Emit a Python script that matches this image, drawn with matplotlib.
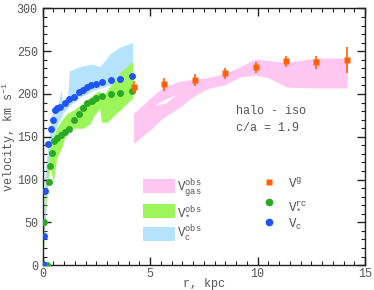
import matplotlib
matplotlib.use("Agg")
import matplotlib.pyplot as plt
from matplotlib.patches import Patch
from matplotlib.lines import Line2D
from matplotlib.ticker import MultipleLocator

plt.rcParams['font.family'] = ['Liberation Mono', 'DejaVu Sans Mono']
plt.rcParams['mathtext.fontset'] = 'custom'
plt.rcParams['mathtext.rm'] = 'Liberation Mono'
plt.rcParams['mathtext.it'] = 'Liberation Mono'
plt.rcParams['mathtext.bf'] = 'Liberation Mono'

# --- Vc observed band (light blue)
c_r  = [0.0, 0.1, 0.25, 0.42, 0.55, 0.7, 0.85, 0.95, 1.15, 1.24, 1.74, 2.28, 2.67, 3.14, 3.6, 4.18]
c_hi = [0, 105, 140, 175, 180, 185, 205, 185, 190, 227, 232, 235, 232, 247, 255, 260]
c_lo = [0, 50, 100, 140, 155, 165, 172, 178, 183, 186, 196, 203, 207, 210, 212, 215]

# --- V* observed band (green)
g_r  = [0.0, 0.1, 0.2, 0.35, 0.5, 0.65, 0.9, 1.12, 1.43, 1.9, 2.2, 2.4, 2.65, 2.75, 3.0, 3.45, 3.6, 4.18]
g_hi = [0, 60, 110, 140, 150, 160, 170, 177, 181, 190, 196, 200, 204, 192, 205, 218, 225, 238]
g_lo = [0, 40, 95, 115, 97, 125, 138, 158, 160, 160, 165, 175, 183, 167, 167, 178, 181, 195]

# --- Vgas observed band (pink)
gas_r  = [4.22, 5.0, 5.6, 6.4, 7.0, 7.65, 7.8, 8.5, 9.2, 9.9, 10.5, 11.37, 12.77, 14.17]
gas_hi = [177, 195, 208, 215, 217, 219, 220, 224, 232, 241, 239, 237, 242, 242]
gas_lo = [142, 158, 172, 185, 197, 206, 207, 211, 220, 222, 219, 208, 207, 207]
# gap inside the gas band
gap_r  = [5.2, 5.7, 6.2]
gap_hi = [187, 194, 199]
gap_lo = [187, 189, 199]

# --- rotation curve points
vc_r = [0.0, 0.05, 0.12, 0.25, 0.37, 0.46, 0.57, 0.68, 0.82, 1.04, 1.24, 1.46, 1.68, 1.86,
        2.07, 2.27, 2.47, 2.78, 3.2, 3.6, 4.18]
vc_v = [1, 34, 87, 141, 159, 170, 181, 184, 185, 190, 194, 197, 202, 205,
        208, 210, 212, 214, 216, 218, 221]

vs_r = [0.18, 0.06, 0.28, 0.36, 0.45, 0.54, 0.68, 0.84, 1.05, 1.24, 1.46, 1.68, 1.88,
        2.08, 2.28, 2.48, 2.78, 3.2, 3.6, 4.18]
vs_v = [0, 50, 97, 116, 131, 145, 148, 152, 156, 159, 169, 177, 184,
        189, 192, 195, 198, 200, 201, 204]

vg_r = [4.24, 5.67, 7.08, 8.48, 9.91, 11.33, 12.74, 14.15]
vg_v = [208, 211.5, 216, 224, 231, 238, 237, 239.5]
vg_e = [7.5, 7.5, 7, 6.6, 6.2, 6.6, 7.8, 15.4]

pink = '#ffc6f2'
green_band = '#9cf55a'
blue_band = '#b6e3fc'
blue = '#1f55f5'
green = '#2aaa22'
orange = '#ff6008'
gray = '#555555'

fig = plt.figure(figsize=(3.74, 2.9), dpi=100)
ax = fig.add_axes([0.114, 0.086, 0.862, 0.885])

ax.fill_between(gas_r, gas_lo, gas_hi, color=pink, lw=0, zorder=1)
ax.fill_between(gap_r, gap_lo, gap_hi, color='white', lw=0, zorder=1.1)
ax.fill_between(c_r, c_lo, c_hi, color=blue_band, lw=0, zorder=1)
ax.fill_between(g_r, g_lo, g_hi, color=green_band, lw=0, zorder=2)

ax.plot(vs_r, vs_v, 'o', color=green, ms=5, mec='none', zorder=3)
ax.plot(vc_r, vc_v, 'o', color=blue, ms=5, mec='none', zorder=4)
ax.errorbar(vg_r, vg_v, yerr=vg_e, fmt='s', color=orange, ms=4.5, mec='none',
            elinewidth=1.2, capsize=0, zorder=5)

ax.set_xlim(0, 15)
ax.set_ylim(0, 300)
ax.xaxis.set_major_locator(MultipleLocator(5))
ax.xaxis.set_minor_locator(MultipleLocator(0.5))
ax.yaxis.set_major_locator(MultipleLocator(50))
ax.yaxis.set_minor_locator(MultipleLocator(10))
ax.tick_params(which='both', direction='in', top=True, right=True, colors='#222222',
               labelcolor=gray, labelsize=8.5)
ax.tick_params(which='major', length=6, width=1)
ax.tick_params(which='minor', length=3, width=0.8)
ax.tick_params(axis='x', pad=2)
for s in ax.spines.values():
    s.set_linewidth(1)
    s.set_color('#222222')

ax.set_xlabel('r, kpc', fontsize=8.5, color=gray, labelpad=-1.5)
ax.set_ylabel(r'velocity, km s$^{-1}$', fontsize=8.5, color=gray, labelpad=-1)

ax.text(9.0, 180, 'halo - iso', fontsize=8.5, color=gray, va='center')
ax.text(9.0, 160, 'c/a = 1.9', fontsize=8.5, color=gray, va='center')

h1 = [Patch(color=pink, lw=0), Patch(color=green_band, lw=0), Patch(color=blue_band, lw=0)]
l1 = [r'V$^{\mathrm{obs}}_{\mathrm{gas}}$', r'V$^{\mathrm{obs}}_{*}$', r'V$^{\mathrm{obs}}_{\mathrm{c}}$']
leg1 = ax.legend(h1, l1, loc='upper left', bbox_to_anchor=(0.311, 0.345), frameon=False,
                 fontsize=9, handlelength=2.56, handleheight=1.36, handletextpad=0.2,
                 labelspacing=0.45, borderpad=0, borderaxespad=0, labelcolor=gray)
ax.add_artist(leg1)

h2 = [Line2D([], [], ls='none', marker='s', color=orange, ms=5, mec='none'),
      Line2D([], [], ls='none', marker='o', color=green, ms=5.5, mec='none'),
      Line2D([], [], ls='none', marker='o', color=blue, ms=5.5, mec='none')]
l2 = [r'V$^{\mathrm{g}}$', r'V$^{\mathrm{rc}}_{*}$', r'V$_{\mathrm{c}}$']
ax.legend(h2, l2, loc='upper left', bbox_to_anchor=(0.682, 0.345), frameon=False,
          fontsize=9, handlelength=1.0, handleheight=1.36, handletextpad=1.0,
          labelspacing=0.45, borderpad=0, borderaxespad=0, labelcolor=gray)

fig.savefig('out.png', dpi=100)
